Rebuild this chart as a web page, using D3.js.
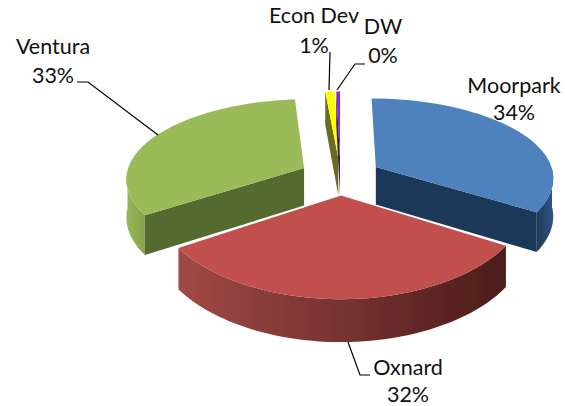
<!DOCTYPE html>
<html><head><meta charset="utf-8">
<style>html,body{margin:0;padding:0;background:#fff}svg{display:block}</style>
<script src="https://cdn.jsdelivr.net/npm/d3@7/dist/d3.min.js"></script>
</head><body><svg id="c" width="565" height="406"></svg>
<script>
const categories = ["Moorpark","Oxnard","Ventura","Econ Dev","DW"];
const values = [34, 32, 33, 1, 0.4];
const percentLabels = ["34%","32%","33%","1%","0%"];
const topColors = ["#4f81bd","#c0504d","#9bbb59","#ffff00","#7f30c8"];
const wallColors = ["#1f3858","#6d2a28","#556a2f","#6a6a20","#3c1a60"];
const outerLeft = ["#1f3858","#a04846","#9ab65a","#8a8a20","#3c1a60"];
const outerRight = ["#2f5684","#4c1c1a","#86a24c","#8a8a20","#3c1a60"];

const cx=340.5,cy=176,k=178,kt=81.5,f=6.6,ex=0.23;
const svg=d3.select("#c");
const defs=svg.append("defs");
const soft=defs.append("filter").attr("id","soft");
soft.append("feGaussianBlur").attr("stdDeviation",0.5);
const pie=d3.pie().sort(null).startAngle(0).endAngle(2*Math.PI);
const arcs=pie(values);

function proj(X,Y,dz){
  const s=f/(f-Y);
  return [cx+k*X*(1+0.12*Y), cy+kt*Y*s+(dz?38+4*Y:0)];
}
function geom(d){
  const m=(d.startAngle+d.endAngle)/2;
  const ox=ex*Math.sin(m), oy=-ex*Math.cos(m);
  const pt=(a,r,dz)=>proj(ox+r*Math.sin(a),oy-r*Math.cos(a),dz);
  return {pt};
}
const line=d3.line();
const order=[2,0,3,4,1];
const pieG=svg.append("g").attr("filter","url(#soft)");
order.forEach(i=>{
  const d=arcs[i],{pt}=geom(d),g=pieG.append("g").attr("class","slice");
  const as=d3.range(0,61).map(t=>d.startAngle+(d.endAngle-d.startAngle)*t/60);
  [[d.startAngle,-1],[d.endAngle,1]].forEach(([a,side])=>{
    if(-Math.cos(a+side*Math.PI/2)>0){
      g.append("path").attr("d",line([pt(a,0,0),pt(a,1,0),pt(a,1,1),pt(a,0,1)])+"Z").attr("fill",wallColors[i]);
    }
  });
  const vis=as.filter(a=>Math.cos(a)<0);
  if(vis.length>1){
    const topPts=vis.map(a=>pt(a,1,0)),botPts=vis.map(a=>pt(a,1,1)).reverse();
    const xs=topPts.map(p=>p[0]);
    const id="g"+i;
    const gr=defs.append("linearGradient").attr("id",id).attr("gradientUnits","userSpaceOnUse")
      .attr("x1",d3.min(xs)).attr("x2",d3.max(xs)).attr("y1",0).attr("y2",0);
    gr.append("stop").attr("offset",0).attr("stop-color",outerLeft[i]);
    gr.append("stop").attr("offset",1).attr("stop-color",outerRight[i]);
    g.append("path").attr("d",line(topPts.concat(botPts))+"Z").attr("fill","url(#"+id+")");
  }
  g.append("path").attr("d",line([pt(d.startAngle,0,0)].concat(as.map(a=>pt(a,1,0))))+"Z").attr("fill",topColors[i]);
});

const leaders=[
 [[330,52],[329,90]],
 [[365,64],[355,64],[337,90]],
 [[77,82],[88,82],[158,135]],
 [[348,342],[360,375],[370,375]]
];
svg.append("g").selectAll("path").data(leaders).join("path")
 .attr("d",d=>line(d)).attr("fill","none").attr("stroke","#000").attr("stroke-width",1.2);

const labelPos=[[514,93,120],[408,375,402],[53,54,83],[314,23,53],[383,34,63]];
const t=svg.append("g").attr("font-family","Lato,'Open Sans',sans-serif").attr("font-size",21.5).attr("fill","#111").attr("text-anchor","middle");
categories.forEach((c,i)=>{
  t.append("text").attr("x",labelPos[i][0]).attr("y",labelPos[i][1]).text(c);
  t.append("text").attr("x",labelPos[i][0]).attr("y",labelPos[i][2]).text(percentLabels[i]);
});
</script></body></html>
